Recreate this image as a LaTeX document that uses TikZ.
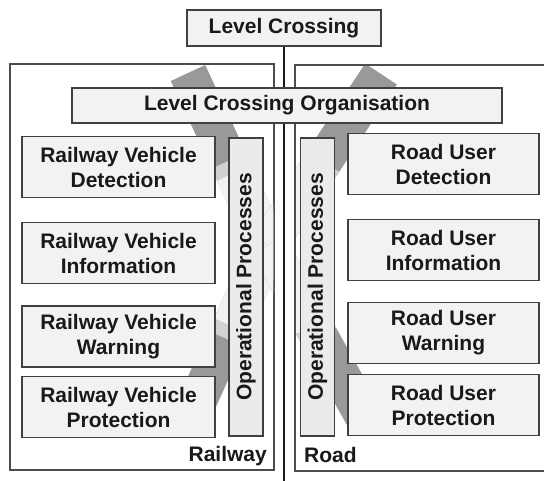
\documentclass[tikz,border=0pt]{standalone}
\usepackage{fontspec}
\setmainfont{Liberation Sans}
\usetikzlibrary{calc}

\begin{document}
\begin{tikzpicture}[
  x = 1pt, y = -1pt,
  panel/.style = {draw=black!70, line width=1.4pt, fill=white},
  box/.style   = {draw=black!75, line width=1.4pt, fill=black!5, inner sep=0pt,
                  align=center, text=black!90,
                  font=\fontsize{21}{25}\selectfont\bfseries},
  opbox/.style = {box, fill=black!8, minimum width=298pt, minimum height=34pt,
                  rotate=90},
  what/.style  = {text=black!90, inner sep=0pt,
                  font=\fontsize{21}{25}\selectfont\bfseries},
  xarm/.style  = {line width=38pt, black!40},
  spine/.style = {line width=2.6pt, black!90},
]

\clip (0, 0) rectangle (544, 481);

% the two sides
\draw[panel] (10, 64) rectangle (274, 470);
\draw[panel] (295, 65) rectangle (560, 471);

% faded crossbuck behind both sides
\coordinate (c) at (268, 245);
\begin{scope}
  \clip (11, 65) rectangle (273, 469) (296, 66) rectangle (560, 470);
  \foreach \tx/\ty/\f in {188/73/0.42, 381/74/0.42,
                          187/425/0.45, 367/422/0.45}{%
    \coordinate (tip) at (\tx, \ty);
    \draw[xarm] (c) -- (tip);
    \draw[xarm, black!18] (c) -- ($(c)!\f+0.07!(tip)$);
    \draw[xarm, black!5] (c) -- ($(c)!\f!(tip)$);
  }
\end{scope}

\node[box, minimum width=194pt, minimum height=36pt] (lc) at (284, 28)
  {Level Crossing};
\coordinate (foot) at (284, 481);
\draw[spine] (lc.south) -- (lc.south |- foot);

\node[box, minimum width=430pt, minimum height=35pt] (org) at (287, 105.5)
  {Level Crossing Organisation};

\foreach \name/\y/\ry/\what in {%
    det/167/164/Detection,
    inf/253/250/Information,
    warn/336.5/333/Warning,
    prot/407/405/Protection%
  }{%
    \node[box, minimum width=193pt, minimum height=61pt] (rv\name)
      at (118.5, \y) {Railway Vehicle\\\what};
    \node[box, minimum width=191pt, minimum height=61pt] (ru\name)
      at (443.5, \ry) {Road User\\\what};
  }

\node[opbox] (opl) at (246, 287) {Operational Processes};
\node[opbox] (opr) at (317.5, 287) {Operational Processes};

\node[what, anchor=east] (railway) at (267, 456) {Railway};
\node[what, anchor=west] (road) at (304, 455) {Road};

\end{tikzpicture}
\end{document}
